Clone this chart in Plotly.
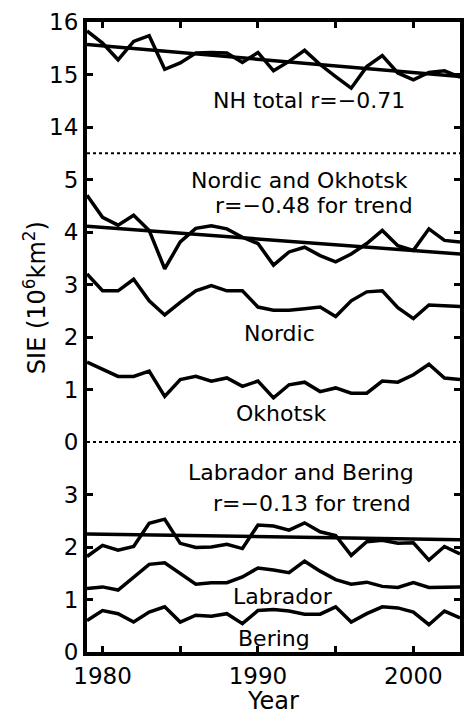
import plotly.graph_objects as go
from plotly.subplots import make_subplots

years = list(range(1979, 2004))

nh_total = [15.83, 15.60, 15.28, 15.63, 15.74, 15.10, 15.22, 15.41, 15.42, 15.41,
            15.23, 15.42, 15.07, 15.25, 15.46, 15.19, 14.96, 14.74, 15.15, 15.36,
            15.03, 14.90, 15.04, 15.07, 14.95]
nh_trend = [15.57, 14.96]

nordic_okhotsk = [4.70, 4.28, 4.13, 4.32, 4.03, 3.30, 3.81, 4.07, 4.12, 4.06,
                  3.90, 3.78, 3.37, 3.62, 3.71, 3.55, 3.43, 3.58, 3.78, 4.03,
                  3.74, 3.65, 4.06, 3.84, 3.81]
no_trend = [4.11, 3.58]
nordic = [3.20, 2.88, 2.88, 3.10, 2.69, 2.42, 2.66, 2.88, 2.98, 2.88,
          2.88, 2.57, 2.51, 2.51, 2.54, 2.57, 2.39, 2.69, 2.86, 2.88,
          2.56, 2.35, 2.61, 2.59, 2.58]
okhotsk = [1.52, 1.39, 1.25, 1.25, 1.35, 0.87, 1.19, 1.25, 1.16, 1.22,
           1.06, 1.16, 0.84, 1.09, 1.14, 0.96, 1.03, 0.93, 0.93, 1.16,
           1.14, 1.28, 1.48, 1.22, 1.19]

labrador_bering = [1.82, 2.03, 1.94, 2.01, 2.45, 2.53, 2.07, 1.99, 2.00, 2.05,
                   1.97, 2.42, 2.40, 2.32, 2.46, 2.29, 2.22, 1.84, 2.10, 2.13,
                   2.07, 2.08, 1.75, 2.01, 1.87]
lb_trend = [2.25, 2.14]
labrador = [1.21, 1.24, 1.18, 1.43, 1.67, 1.70, 1.49, 1.29, 1.32, 1.32,
            1.43, 1.60, 1.56, 1.51, 1.73, 1.54, 1.38, 1.29, 1.33, 1.25,
            1.23, 1.32, 1.23, 1.24, 1.24]
bering = [0.60, 0.79, 0.73, 0.57, 0.76, 0.86, 0.57, 0.70, 0.68, 0.73,
          0.54, 0.79, 0.81, 0.78, 0.72, 0.72, 0.86, 0.57, 0.73, 0.86,
          0.84, 0.76, 0.52, 0.78, 0.65]

trend_years = [1979, 2003]
x_major = [1980, 1990, 2000]
x_minor = [1985, 1995]

FONT = "DejaVu Sans"
LW = 3.5

fig = make_subplots(rows=3, cols=1, shared_xaxes=True, vertical_spacing=0,
                    row_heights=[2.5, 5.5, 4.0])

def line(x, y, row):
    fig.add_trace(go.Scatter(x=x, y=y, mode="lines",
                             line=dict(color="black", width=LW),
                             showlegend=False, hoverinfo="skip"), row=row, col=1)

line(years, nh_total, 1)
line(trend_years, nh_trend, 1)
line(years, nordic_okhotsk, 2)
line(trend_years, no_trend, 2)
line(years, nordic, 2)
line(years, okhotsk, 2)
line(years, labrador_bering, 3)
line(trend_years, lb_trend, 3)
line(years, labrador, 3)
line(years, bering, 3)

yranges = [[13.5, 16], [0, 5.5], [0, 4]]
yticks = [[14, 15, 16], [0, 1, 2, 3, 4, 5], [0, 1, 2, 3]]
for i in range(3):
    fig.update_yaxes(row=i + 1, col=1, range=yranges[i], tickvals=yticks[i],
                     ticks="inside", ticklen=6, tickwidth=3, tickcolor="black",
                     showline=True, linewidth=4, linecolor="black", mirror="ticks",
                     showgrid=False, zeroline=False,
                     tickfont=dict(family=FONT, size=23, color="black"))

minor = dict(tickvals=x_minor, ticks="inside", ticklen=6, tickwidth=3,
             tickcolor="black", showgrid=False)
common_x = dict(range=[1979, 2003], tickvals=x_major, showgrid=False, zeroline=False)
fig.update_xaxes(row=1, col=1, side="top", showline=True, linewidth=4, linecolor="black",
                 ticks="inside", ticklen=6, tickwidth=3, tickcolor="black",
                 showticklabels=False, minor=minor, **common_x)
fig.update_xaxes(row=2, col=1, showline=False, ticks="", showticklabels=False, **common_x)
fig.update_xaxes(row=3, col=1, showline=True, linewidth=4, linecolor="black",
                 ticks="inside", ticklen=6, tickwidth=3, tickcolor="black",
                 minor=minor, ticklabelstandoff=0,
                 tickfont=dict(family=FONT, size=23, color="black"),
                 title=dict(text="Year", font=dict(family=FONT, size=24, color="black"),
                            standoff=2),
                 **common_x)

fig.update_yaxes(row=2, col=1,
                 title=dict(text="SIE (10<sup>6</sup>km<sup>2</sup>)",
                            font=dict(family=FONT, size=24, color="black"), standoff=12))

# dotted separators between panels
for yb in [1 - 2.5 / 12, 4.0 / 12]:
    fig.add_shape(type="line", xref="paper", yref="paper", x0=0, x1=1, y0=yb, y1=yb,
                  line=dict(color="black", width=2, dash="dot"))

ann = [
    ("NH total r=\u22120.71", 1993.3, 14.5, "y"),
    ("Nordic and Okhotsk", 1992.65, 4.98, "y2"),
    ("r=\u22120.48 for trend", 1993.6, 4.50, "y2"),
    ("Nordic", 1991.4, 2.07, "y2"),
    ("Okhotsk", 1991.5, 0.55, "y2"),
    ("Labrador and Bering", 1992.8, 3.42, "y3"),
    ("r=\u22120.13 for trend", 1993.5, 2.83, "y3"),
    ("Labrador", 1991.6, 1.06, "y3"),
    ("Bering", 1991.0, 0.25, "y3"),
]
for text, ax, ay, yref in ann:
    fig.add_annotation(text=text, x=ax, y=ay, xref="x", yref=yref, showarrow=False,
                       font=dict(family=FONT, size=22, color="black"))

fig.update_layout(width=466, height=715, margin=dict(l=87, r=2, t=22, b=63),
                  paper_bgcolor="white", plot_bgcolor="white")

fig.write_html("out.html")
